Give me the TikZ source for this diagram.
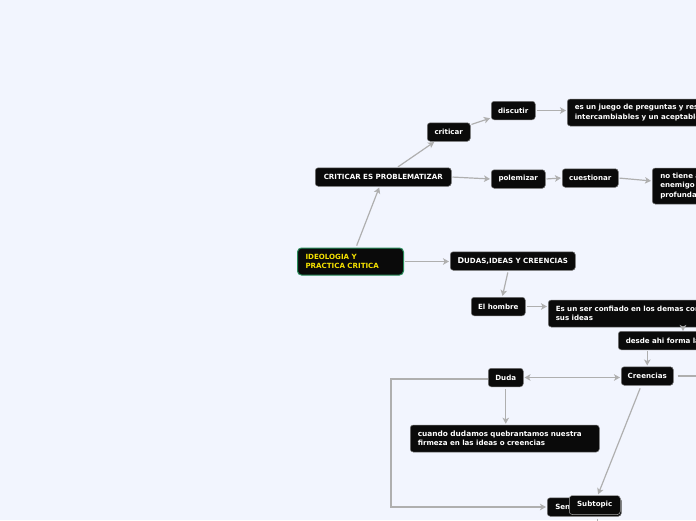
\documentclass[tikz,border=0pt]{standalone}
\usepackage{fontspec}
\setmainfont{DejaVu Sans}
\usetikzlibrary{arrows.meta,calc}
\definecolor{bg}{RGB}{242,245,254}
\definecolor{nodebg}{RGB}{10,10,10}
\definecolor{conncol}{RGB}{175,175,175}
\definecolor{ideoyel}{RGB}{245,225,0}
\definecolor{ideogrn}{RGB}{40,140,90}
\tikzset{
  box/.style={fill=nodebg, draw=black!55, line width=0.5pt, rounded corners=3pt,
    text=white, font=\fontsize{7.1}{9.3}\selectfont\bfseries,
    inner xsep=0pt, inner ysep=0pt, minimum height=18.5pt, anchor=west},
  multibox/.style={box, align=left, inner xsep=7.5pt},
  conn/.style={draw=conncol, line width=1.2pt,
    -{Stealth[length=6pt,width=6.5pt,inset=1.5pt]}, shorten >=1pt, shorten <=1pt},
  plain/.style={draw=conncol, line width=1.2pt},
}
\begin{document}
\begin{tikzpicture}[x=1pt,y=-1pt]
\useasboundingbox (0,0) rectangle (696,520);
\fill[bg] (0,0) rectangle (696,520);
\clip (0,0) rectangle (696,520);

% nodes
\node[multibox, text width=90pt, inner xsep=8pt, minimum height=27pt,
      draw=ideogrn, line width=1pt, text=ideoyel, rounded corners=4pt] (ideo) at (297,261.5)
  {IDEOLOGIA Y\\PRACTICA CRITICA};
\node[box, minimum width=136pt] (crit) at (315,177) {CRITICAR ES PROBLEMATIZAR};
\node[box, minimum width=43pt] (criticar) at (427,132) {criticar};
\node[box, minimum width=44pt] (discutir) at (491,110.5) {discutir};
\node[multibox, text width=190pt, minimum height=27pt] (juego) at (567,112.5)
  {es un juego de preguntas y res\\intercambiables y un aceptable};
\node[box, minimum width=54pt] (polem) at (491,179) {polemizar};
\node[box, minimum width=56pt] (cuest) at (562,178) {cuestionar};
\node[multibox, text width=90pt, minimum height=36pt, inner xsep=8pt] (notiene) at (652,186)
  {no tiene a\\enemigo\\profunda};
\node[box, minimum width=125pt] (dudas) at (450,261)
  {{\fontsize{8}{9.3}\selectfont D}UDAS,IDEAS Y CREENCIAS};
\node[box, minimum width=54pt] (hombre) at (471,306.5) {El hombre};
\node[multibox, text width=200pt, minimum height=27pt] (esunser) at (548,313.5)
  {Es un ser confiado en los demas con\\sus ideas};
\node[multibox, text width=150pt] (desde) at (618,340.5) {desde ahi forma la};
\node[box, minimum width=52pt] (creencias) at (621,376) {Creencias};
\node[box, minimum width=35pt] (duda) at (488,377.5) {Duda};
\node[multibox, text width=174pt, minimum height=27pt] (cuando) at (410,438.5)
  {{\fontsize{7.4}{9.3}\selectfont cuando dudam}os quebrantamos nuestra\\firmeza en las ideas o creencias};
\node[multibox, text width=58pt, inner xsep=8pt] (sen) at (547,507) {Sen};
\node[box, minimum width=51pt, minimum height=19pt, draw=gray!70] (subtopic) at (569,505) {Subtopic};

% connectors
\draw[conn, shorten <=2pt] (ideo) -- (crit);
\draw[conn] (crit) -- (criticar);
\draw[conn] (criticar) -- (discutir);
\draw[conn] (discutir.east) -- (discutir.east -| juego.west);
\draw[conn] (crit.east) -- (polem.west);
\draw[conn] (polem.east) -- (cuest.west);
\draw[conn] (cuest.east) -- ([yshift=5pt]notiene.west);
\draw[conn] (ideo.east) -- (ideo.east -| dudas.west);
\draw[conn, shorten <=2pt] ([xshift=-4.5pt]dudas.south) -- ([xshift=4pt]hombre.north);
\draw[conn] (hombre.east) -- (hombre.east -| esunser.west);
\draw[conn, shorten <=0pt, shorten >=0pt] ([xshift=135pt]esunser.south west) -- ([xshift=65pt]desde.north west);
\draw[conn] (desde.south -| creencias.north) -- (creencias.north);
\draw[plain, shorten <=4pt] (creencias.east) -- ++(40,0);
\draw[conn, {Stealth[length=6pt,width=6.5pt,inset=1.5pt]}-{Stealth[length=6pt,width=6.5pt,inset=1.5pt]}, shorten <=1pt]
  (duda.east) -- (duda.east -| creencias.west);
\draw[conn, shorten <=2pt] (duda.south) -- (duda.south |- cuando.north);
\draw[conn, shorten <=0pt] ([yshift=-1.5pt]duda.west) -- ++(-97,0) |- (sen.west);
\draw[conn, shorten <=3pt] ([xshift=-6pt]creencias.south) -- ([xshift=3pt]subtopic.north);
\draw[plain] ([xshift=13.5pt,yshift=-2pt]sen.south) -- ++(0,20);
\end{tikzpicture}
\end{document}
